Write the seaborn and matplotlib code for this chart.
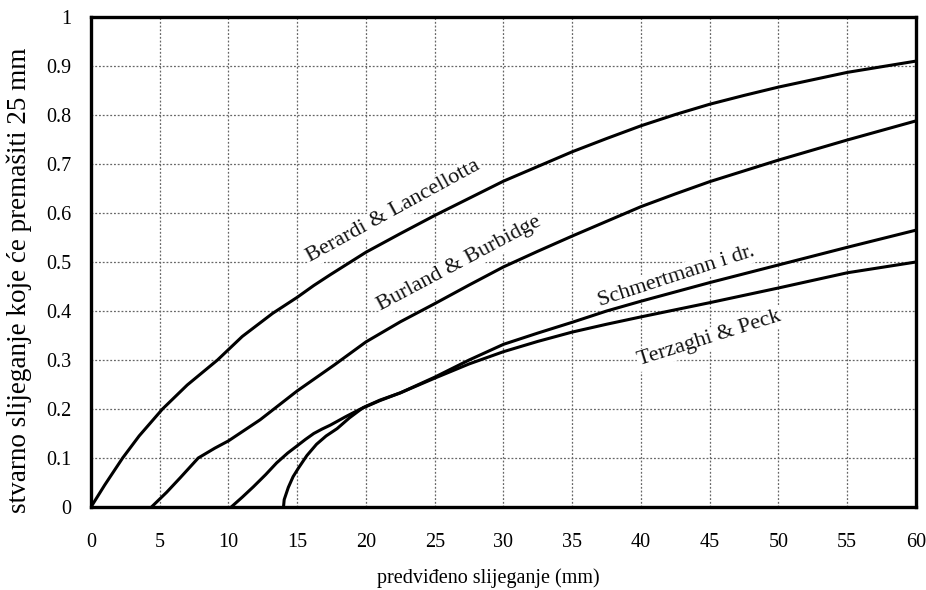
import numpy as np
import pandas as pd
import matplotlib
matplotlib.use("Agg")
import matplotlib.pyplot as plt
import seaborn as sns

# ---- data ----
berardi_x = [0, 1, 2.3, 3.5, 5.2, 7, 9.2, 11, 13.2, 15, 16.2, 17.4, 18.7, 20, 22.5, 25, 27.5, 30, 32.5, 35, 37.5, 40, 42.5, 45, 47.5, 50, 55, 60]
berardi_y = [0, 0.045, 0.1, 0.145, 0.2, 0.249, 0.3, 0.348, 0.395, 0.428, 0.452, 0.474, 0.497, 0.52, 0.558, 0.595, 0.63, 0.665, 0.695, 0.725, 0.752, 0.778, 0.801, 0.822, 0.84, 0.857, 0.887, 0.91]

burland_x = [4.4, 5.5, 6.5, 7.8, 9, 10, 12.3, 15, 17.7, 20, 22.5, 25, 27.5, 30, 32.5, 35, 37.5, 40, 42.5, 45, 50, 55, 60]
burland_y = [0, 0.03, 0.06, 0.1, 0.12, 0.135, 0.178, 0.237, 0.29, 0.337, 0.378, 0.415, 0.453, 0.49, 0.522, 0.553, 0.583, 0.613, 0.639, 0.664, 0.708, 0.749, 0.788]

schmert_x = [10.2, 11, 11.8, 12.7, 13.5, 14.3, 15, 15.6, 16.2, 16.8, 17.4, 18.5, 19.6, 21, 22.5, 25, 27.5, 30, 32.5, 35, 37.5, 40, 45, 50, 55, 60]
schmert_y = [0, 0.02, 0.041, 0.066, 0.09, 0.11, 0.125, 0.138, 0.15, 0.159, 0.167, 0.184, 0.2, 0.217, 0.233, 0.265, 0.3, 0.332, 0.355, 0.377, 0.4, 0.42, 0.458, 0.494, 0.53, 0.565]

terzaghi_x = [14.0, 14.05, 14.35, 14.7, 15.1, 15.7, 16.4, 17.1, 17.9, 18.8, 19.8, 21, 22.5, 25, 27.5, 30, 32.5, 35, 37.5, 40, 45, 50, 55, 60]
terzaghi_y = [0, 0.015, 0.04, 0.062, 0.08, 0.105, 0.128, 0.145, 0.16, 0.182, 0.203, 0.218, 0.233, 0.263, 0.292, 0.317, 0.338, 0.357, 0.373, 0.388, 0.417, 0.447, 0.478, 0.5]

curve_names = ["Berardi & Lancellotta", "Burland & Burbidge", "Schmertmann i dr.", "Terzaghi & Peck"]
label_pos = [(22.0, 0.603, 28.7), (26.8, 0.496, 28.0), (42.6, 0.471, 18.0), (45.0, 0.343, 17.5)]

x_ticks = [0, 5, 10, 15, 20, 25, 30, 35, 40, 45, 50, 55, 60]
y_ticks = [0, 0.1, 0.2, 0.3, 0.4, 0.5, 0.6, 0.7, 0.8, 0.9, 1.0]
y_tick_labels = ["0", "0.1", "0.2", "0.3", "0.4", "0.5", "0.6", "0.7", "0.8", "0.9", "1"]

x_label = "predviđeno slijeganje (mm)"
y_label = "stvarno slijeganje koje će premašiti 25 mm"

# ---- build long-form table ----
frames = []
for name, xs, ys in zip(curve_names,
                        [berardi_x, burland_x, schmert_x, terzaghi_x],
                        [berardi_y, burland_y, schmert_y, terzaghi_y]):
    frames.append(pd.DataFrame({"x": xs, "y": ys, "curve": name}))
df = pd.concat(frames, ignore_index=True)

sns.set_theme(style="white")
plt.rcParams["font.family"] = ["Liberation Serif", "DejaVu Serif"]

fig = plt.figure(figsize=(9.26, 5.90), dpi=100)
ax = fig.add_axes([91 / 926, 1 - 507 / 590, 825 / 926, 490 / 590])

sns.lineplot(data=df, x="x", y="y", hue="curve", palette=["black"] * 4,
             estimator=None, sort=False, legend=False, linewidth=2.2, ax=ax, zorder=4)
for ln in ax.get_lines():
    ln.set_solid_joinstyle("round")
    ln.set_solid_capstyle("round")

ax.set_xlim(0, 60)
ax.set_ylim(0, 1)
ax.set_xticks(x_ticks)
ax.set_xticklabels([str(t) for t in x_ticks])
ax.set_yticks(y_ticks)
ax.set_yticklabels(y_tick_labels)
ax.tick_params(axis="both", length=0, labelsize=14.5, colors="black")
ax.tick_params(axis="x", pad=19)
ax.tick_params(axis="y", pad=14)

ax.grid(True, linestyle=(0, (1.5, 1.5)), color="#666666", linewidth=0.9, zorder=1)
ax.set_axisbelow(True)
for sp in ax.spines.values():
    sp.set_color("black")
    sp.set_linewidth(2.4)
    sp.set_zorder(5)

ax.set_xlabel(x_label, fontsize=14.5, color="black")
ax.xaxis.set_label_coords((488 - 91) / 825, -(568 - 507) / 490)
ax.set_ylabel(y_label, fontsize=19.5, color="black")
ax.yaxis.set_label_coords(-(91 - 32) / 825, (507 - 280) / 490)

for name, (lx, ly, rot) in zip(curve_names, label_pos):
    ax.text(lx, ly, name, rotation=rot, rotation_mode="anchor",
            ha="center", va="center", fontsize=16, color="#111111", zorder=3,
            bbox=dict(facecolor="white", edgecolor="none", pad=1.0))

fig.savefig("out.png", dpi=100, facecolor="white")
